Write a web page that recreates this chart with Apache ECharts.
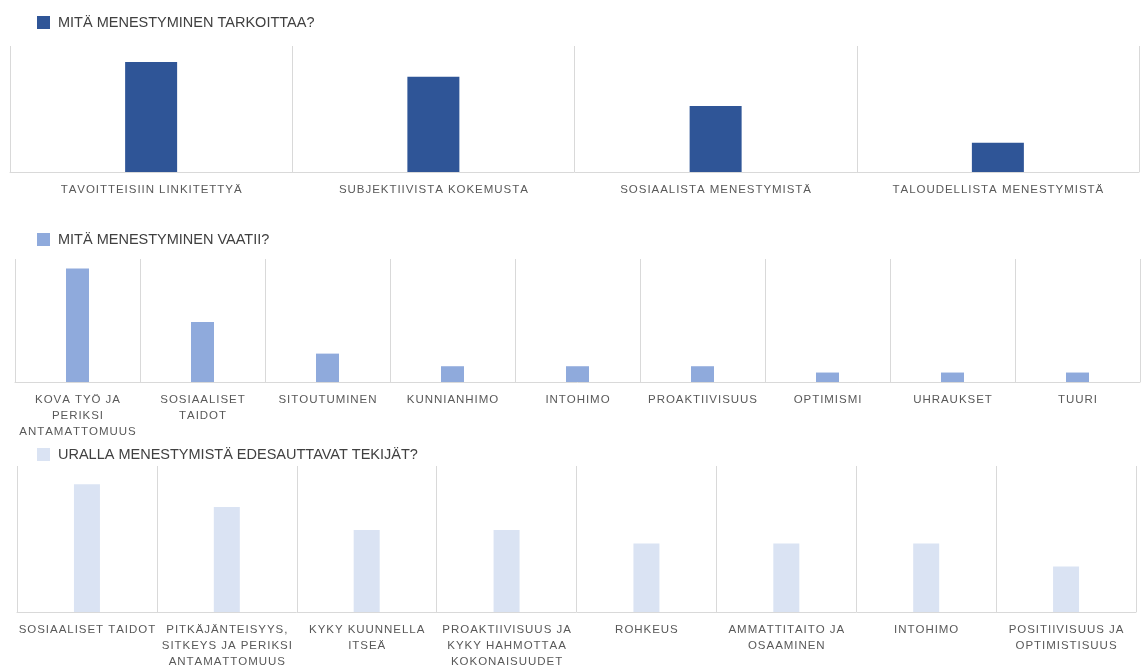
<!DOCTYPE html>
<html style="height: 100%">
  <head>
    <meta charset="utf-8">
  </head>
  <body style="height: 100%; margin: 0; background: #fff">
    <div id="container" style="width: 1142px; height: 666px"></div>
    <script type="text/javascript" src="https://cdn.jsdelivr.net/npm/echarts@6/dist/echarts.min.js"></script>
    <script type="text/javascript">
      // panel 1
      let name1 = 'MITÄ MENESTYMINEN TARKOITTAA?';
      let cats1 = ['TAVOITTEISIIN LINKITETTYÄ', 'SUBJEKTIIVISTA KOKEMUSTA', 'SOSIAALISTA MENESTYMISTÄ', 'TALOUDELLISTA MENESTYMISTÄ'];
      let vals1 = [15, 13, 9, 4];

      // panel 2
      let name2 = 'MITÄ MENESTYMINEN VAATII?';
      let cats2 = ['KOVA TYÖ JA\nPERIKSI\nANTAMATTOMUUS', 'SOSIAALISET\nTAIDOT', 'SITOUTUMINEN', 'KUNNIANHIMO', 'INTOHIMO',
        'PROAKTIIVISUUS', 'OPTIMISMI', 'UHRAUKSET', 'TUURI'];
      let vals2 = [36, 19, 9, 5, 5, 5, 3, 3, 3];

      // panel 3
      let name3 = 'URALLA MENESTYMISTÄ EDESAUTTAVAT TEKIJÄT?';
      let cats3 = ['SOSIAALISET TAIDOT', 'PITKÄJÄNTEISYYS,\nSITKEYS JA PERIKSI\nANTAMATTOMUUS', 'KYKY KUUNNELLA\nITSEÄ',
        'PROAKTIIVISUUS JA\nKYKY HAHMOTTAA\nKOKONAISUUDET', 'ROHKEUS', 'AMMATTITAITO JA\nOSAAMINEN', 'INTOHIMO',
        'POSITIIVISUUS JA\nOPTIMISTISUUS'];
      let vals3 = [28, 23, 18, 18, 15, 15, 15, 10];

      let dom = document.getElementById('container');
      let myChart = echarts.init(dom, null, { renderer: 'canvas' });

      let gridColor = '#d9d9d9';
      let fontFamily = '"Liberation Sans", Arial, sans-serif';

      // spread the letters a bit, the labels in the original are letter-spaced
      function spaced(value) {
        return value.split('\n').map(function (line) {
          return line.split('').join('\u200A');
        }).join('\n');
      }

      function xAxis(idx, cats) {
        return {
          type: 'category',
          gridIndex: idx,
          data: cats,
          axisLine: { lineStyle: { color: gridColor, width: 1 } },
          axisTick: { show: false },
          splitLine: { show: true, lineStyle: { color: gridColor, width: 1 } },
          axisLabel: {
            interval: 0,
            margin: 10,
            color: '#595959',
            fontSize: 11.5,
            lineHeight: 16,
            fontFamily: fontFamily,
            formatter: spaced
          }
        };
      }

      function yAxis(idx, max) {
        return { type: 'value', gridIndex: idx, min: 0, max: max, show: false };
      }

      function legend(name, top) {
        return {
          data: [name],
          left: 32,
          top: top,
          icon: 'rect',
          itemWidth: 13,
          itemHeight: 13,
          selectedMode: false,
          textStyle: { color: '#404040', fontSize: 14.5, fontFamily: fontFamily, padding: [0, 0, 0, 3] }
        };
      }

      let option = {
        animation: false,
        backgroundColor: '#fff',
        legend: [legend(name1, 10), legend(name2, 227), legend(name3, 442)],
        grid: [
          { left: 10, right: 3, top: 46, bottom: 494, outerBoundsMode: 'none' },
          { left: 15, right: 2, top: 259, bottom: 284, outerBoundsMode: 'none' },
          { left: 17, right: 6, top: 466, bottom: 54, outerBoundsMode: 'none' }
        ],
        xAxis: [xAxis(0, cats1), xAxis(1, cats2), xAxis(2, cats3)],
        yAxis: [yAxis(0, 17.2), yAxis(1, 39), yAxis(2, 32)],
        series: [
          { name: name1, type: 'bar', xAxisIndex: 0, yAxisIndex: 0, data: vals1, barWidth: 52, itemStyle: { color: '#2F5597' } },
          { name: name2, type: 'bar', xAxisIndex: 1, yAxisIndex: 1, data: vals2, barWidth: 23, itemStyle: { color: '#8FAADC' } },
          { name: name3, type: 'bar', xAxisIndex: 2, yAxisIndex: 2, data: vals3, barWidth: 26, itemStyle: { color: '#DAE3F3' } }
        ]
      };

      myChart.setOption(option);
    </script>
  </body>
</html>
